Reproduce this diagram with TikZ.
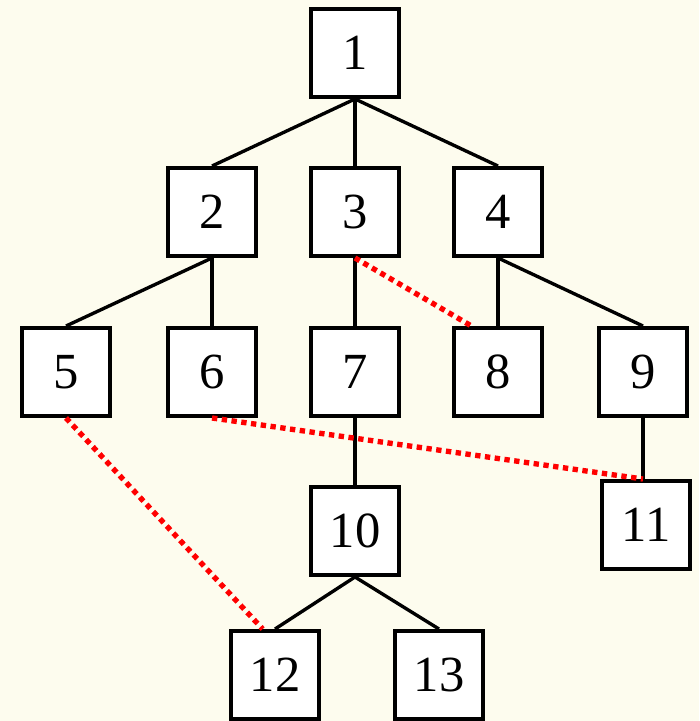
\documentclass[tikz,border=0pt]{standalone}
\usepackage{fontspec}
\setmainfont{Liberation Serif}
\definecolor{bgcream}{RGB}{253,252,238}
\tikzset{
  tbox/.style={draw=black, line width=2.8pt, fill=white, minimum size=2.2cm,
    inner sep=0pt, font=\fontsize{36}{40}\selectfont},
  tedge/.style={draw=black, line width=2.4pt},
  tlink/.style={draw=red, line width=3.8pt, dash pattern=on 3.8pt off 3.2pt}
}
\begin{document}
\begin{tikzpicture}[x=0.025cm, y=-0.025cm]
  \fill[bgcream] (0,0) rectangle (699,721);
  \useasboundingbox (0,0) rectangle (699,721);
  % tree levels
  \node[tbox] (n1) at (355,53) {1};
  \node[tbox] (n2) at (212,212) {2};
  \node[tbox] (n3) at (355,212) {3};
  \node[tbox] (n4) at (498,212) {4};
  \node[tbox] (n5) at (66,372) {5};
  \node[tbox] (n6) at (212,372) {6};
  \node[tbox] (n7) at (355,372) {7};
  \node[tbox] (n8) at (498,372) {8};
  \node[tbox] (n9) at (643,372) {9};
  \node[tbox] (n10) at (355,531) {10};
  \node[tbox] (n11) at (646,525) {11};
  \node[tbox] (n12) at (275,675) {12};
  \node[tbox] (n13) at (439,675) {13};
  \coordinate (top11) at (n9.south |- n11.north);
  % parent-child edges
  \draw[tedge] (n1.south) -- (n2.north);
  \draw[tedge] (n1.south) -- (n3.north);
  \draw[tedge] (n1.south) -- (n4.north);
  \draw[tedge] (n2.south) -- (n5.north);
  \draw[tedge] (n2.south) -- (n6.north);
  \draw[tedge] (n3.south) -- (n7.north);
  \draw[tedge] (n4.south) -- (n8.north);
  \draw[tedge] (n4.south) -- (n9.north);
  \draw[tedge] (n7.south) -- (n10.north);
  \draw[tedge] (n9.south) -- (top11);
  \draw[tedge] (n10.south) -- (n12.north);
  \draw[tedge] (n10.south) -- (n13.north);
  % cross links
  \draw[tlink] (n3.south) -- (n8.120);
  \draw[tlink] (n6.south) -- (top11);
  \draw[tlink] (n5.south) -- (n12.105);
\end{tikzpicture}
\end{document}
